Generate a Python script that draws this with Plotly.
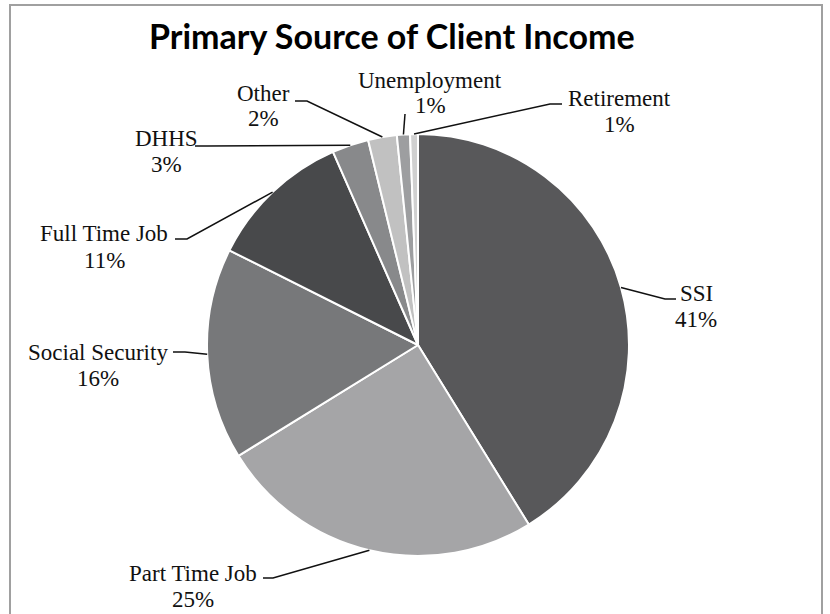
import math
import plotly.graph_objects as go

# ---- data ----
categories = ["SSI", "Part Time Job", "Social Security", "Full Time Job",
              "DHHS", "Other", "Unemployment", "Retirement"]
values = [41.2, 25.0, 16.2, 11.0, 2.8, 2.2, 1.0, 0.6]
colors = ["#58585a", "#a5a5a7", "#77787a", "#48494b",
          "#88898b", "#c1c1c1", "#9d9ea0", "#d0d0d0"]

# ---- layout (pixels in 830x614 page) ----
W, H = 830, 614
CX, CY, R = 418, 345, 211
# label text centre (name line), percent line below; leader start and elbow
label_layout = {
    "SSI":             dict(tx=696, ty=293, sx=676, sy=299, ex=665, ey=299),
    "Part Time Job":   dict(tx=193, ty=573, sx=263, sy=578, ex=273, ey=578),
    "Social Security": dict(tx=98,  ty=352, sx=173, sy=352, ex=185, ey=352),
    "Full Time Job":   dict(tx=104, ty=234, sx=175, sy=239, ex=187, ey=239),
    "DHHS":            dict(tx=166, ty=138, sx=195, sy=146, ex=207, ey=146),
    "Other":           dict(tx=263, ty=93,  sx=295, sy=101, ex=307, ey=101),
    "Unemployment":    dict(tx=430, ty=80,  sx=405, sy=114, ex=405, ey=114),
    "Retirement":      dict(tx=619, ty=99,  sx=562, sy=104, ex=550, ey=104),
}
LINE_GAP = 26
FONT = "Liberation Serif"
FONT_SIZE = 23


def px(x):
    return x / W


def py(y):
    return 1 - y / H


fig = go.Figure(go.Pie(
    labels=categories,
    values=values,
    sort=False,
    direction="clockwise",
    rotation=0,
    marker=dict(colors=colors, line=dict(color="white", width=2)),
    textinfo="none",
    hoverinfo="label+percent",
    domain=dict(x=[px(CX - R), px(CX + R)], y=[py(CY + R), py(CY - R)]),
    showlegend=False,
))

total = sum(values)
annotations = []
shapes = []
cum = 0.0
for name, v in zip(categories, values):
    mid = (cum + v / 2) / total * 2 * math.pi
    cum += v
    ptx = CX + R * math.sin(mid)
    pty = CY - R * math.cos(mid)
    L = label_layout[name]
    pct = f"{round(v / total * 100)}%"
    annotations.append(dict(x=px(L["tx"]), y=py(L["ty"]), xref="paper", yref="paper",
                            text=name, showarrow=False, xanchor="center", yanchor="middle",
                            font=dict(family=FONT, size=FONT_SIZE, color="#111")))
    annotations.append(dict(x=px(L["tx"]), y=py(L["ty"] + LINE_GAP), xref="paper", yref="paper",
                            text=pct, showarrow=False, xanchor="center", yanchor="middle",
                            font=dict(family=FONT, size=FONT_SIZE, color="#111")))
    path = (f"M {px(L['sx'])} {py(L['sy'])} L {px(L['ex'])} {py(L['ey'])} "
            f"L {px(ptx)} {py(pty)}")
    shapes.append(dict(type="path", path=path, xref="paper", yref="paper",
                       line=dict(color="#111", width=1.5)))

# outer frame
shapes.append(dict(type="rect", x0=px(10), x1=px(822), y0=py(616), y1=py(5),
                   xref="paper", yref="paper", line=dict(color="#a0a0a0", width=2)))

annotations.append(dict(x=px(392), y=py(35), xref="paper", yref="paper",
                        text="<b>Primary Source of Client Income</b>", showarrow=False,
                        xanchor="center", yanchor="middle",
                        font=dict(family="Lato", size=34, color="black")))

fig.update_layout(
    width=W, height=H,
    margin=dict(l=0, r=0, t=0, b=0),
    paper_bgcolor="white",
    plot_bgcolor="white",
    annotations=annotations,
    shapes=shapes,
)

fig.write_html("out.html",
               config={"displayModeBar": False},
               post_script="document.body.style.margin='0';document.body.style.overflow='hidden';")
